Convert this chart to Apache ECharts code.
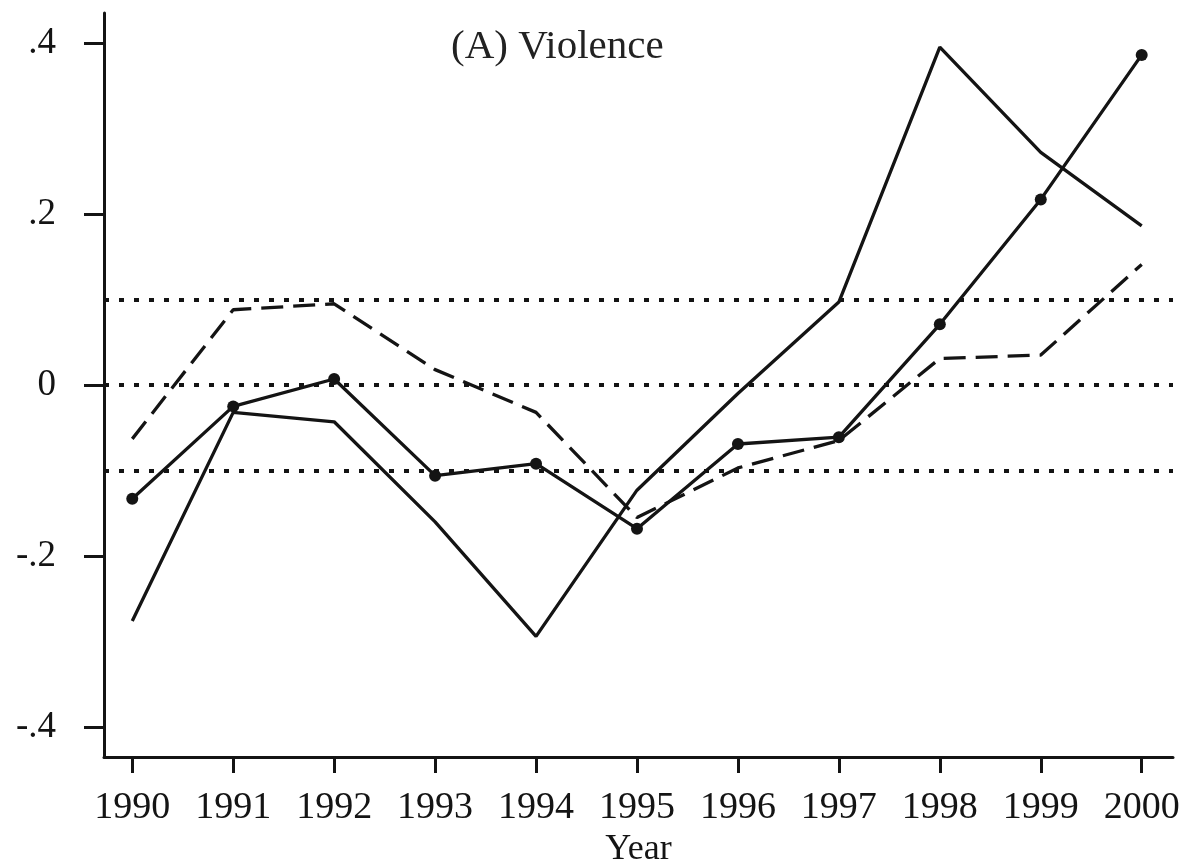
<!DOCTYPE html>
<html>
<head>
<meta charset="utf-8">
<title>(A) Violence</title>
<script src="https://cdn.jsdelivr.net/npm/echarts@6/dist/echarts.min.js"></script>
<style>
  html, body { margin: 0; padding: 0; background: #fff; }
  #chart { width: 1186px; height: 861px; }
</style>
</head>
<body>
<div id="chart"></div>
<script>
// Years on the horizontal axis
const years = [1990, 1991, 1992, 1993, 1994, 1995, 1996, 1997, 1998, 1999, 2000];

// Three yearly series (solid with markers, plain solid, dashed)
const markedSeries = [-0.133, -0.025, 0.007, -0.106, -0.092, -0.168, -0.069, -0.061, 0.071, 0.217, 0.386];
const solidSeries  = [-0.276, -0.032, -0.043, -0.160, -0.294, -0.123, -0.010, 0.097, 0.395, 0.272, 0.186];
const dashedSeries = [-0.063, 0.088, 0.095, 0.018, -0.032, -0.155, -0.097, -0.065, 0.031, 0.035, 0.141];

// Dotted reference levels
const referenceLevels = [0.1, 0, -0.1];

// Y axis ticks and their printed labels
const yTicks = [-0.4, -0.2, 0, 0.2, 0.4];
const yTickLabels = ['-.4', '-.2', '0', '.2', '.4'];

const ink = '#141414';
const serif = '"Liberation Serif", "DejaVu Serif", serif';

const pair = vals => years.map((y, i) => [y, vals[i]]);

const chart = echarts.init(document.getElementById('chart'), null, { renderer: 'canvas' });

chart.setOption({
  backgroundColor: '#fff',
  animation: false,
  title: {
    text: '(A) Violence',
    left: 446,
    top: 22,
    textStyle: { fontFamily: serif, fontSize: 41, fontWeight: 'normal', color: '#222' }
  },
  grid: {
    left: 104, right: 13, top: 13, bottom: 104,
    containLabel: false,
    outerBoundsMode: 'none'
  },
  xAxis: {
    type: 'value',
    min: 1989.72,
    max: 2000.31,
    name: 'Year',
    nameLocation: 'middle',
    nameGap: 64,
    nameTextStyle: { fontFamily: serif, fontSize: 36, color: ink },
    axisLine: { show: true, onZero: false, lineStyle: { color: ink, width: 3 } },
    axisTick: { show: true, customValues: years, length: 16, lineStyle: { color: ink, width: 3 } },
    axisLabel: {
      customValues: years,
      margin: 32,
      fontFamily: serif,
      fontSize: 38,
      color: ink,
      formatter: v => String(Math.round(v))
    },
    splitLine: { show: false }
  },
  yAxis: {
    type: 'value',
    min: -0.435,
    max: 0.435,
    axisLine: { show: true, onZero: false, lineStyle: { color: ink, width: 3 } },
    axisTick: { show: true, customValues: yTicks, length: 20, lineStyle: { color: ink, width: 3 } },
    axisLabel: {
      customValues: yTicks,
      margin: 48,
      fontFamily: serif,
      fontSize: 37,
      color: ink,
      formatter: v => {
        const i = yTicks.findIndex(t => Math.abs(t - v) < 1e-9);
        return i >= 0 ? yTickLabels[i] : '';
      }
    },
    splitLine: { show: false }
  },
  series: [
    {
      name: 'levels',
      type: 'line',
      data: [],
      markLine: {
        silent: true,
        symbol: ['none', 'none'],
        label: { show: false },
        lineStyle: { color: ink, width: 4, type: [5, 10], cap: 'butt' },
        data: referenceLevels.map(v => ({ yAxis: v }))
      }
    },
    {
      name: 'dashed',
      type: 'line',
      data: pair(dashedSeries),
      showSymbol: false,
      symbol: 'none',
      lineStyle: { color: ink, width: 3.3, type: [22, 10] }
    },
    {
      name: 'solid',
      type: 'line',
      data: pair(solidSeries),
      showSymbol: false,
      symbol: 'none',
      lineStyle: { color: ink, width: 3.3 }
    },
    {
      name: 'marked',
      type: 'line',
      data: pair(markedSeries),
      symbol: 'circle',
      symbolSize: 12,
      itemStyle: { color: ink },
      lineStyle: { color: ink, width: 3.3 }
    }
  ]
});
</script>
</body>
</html>
